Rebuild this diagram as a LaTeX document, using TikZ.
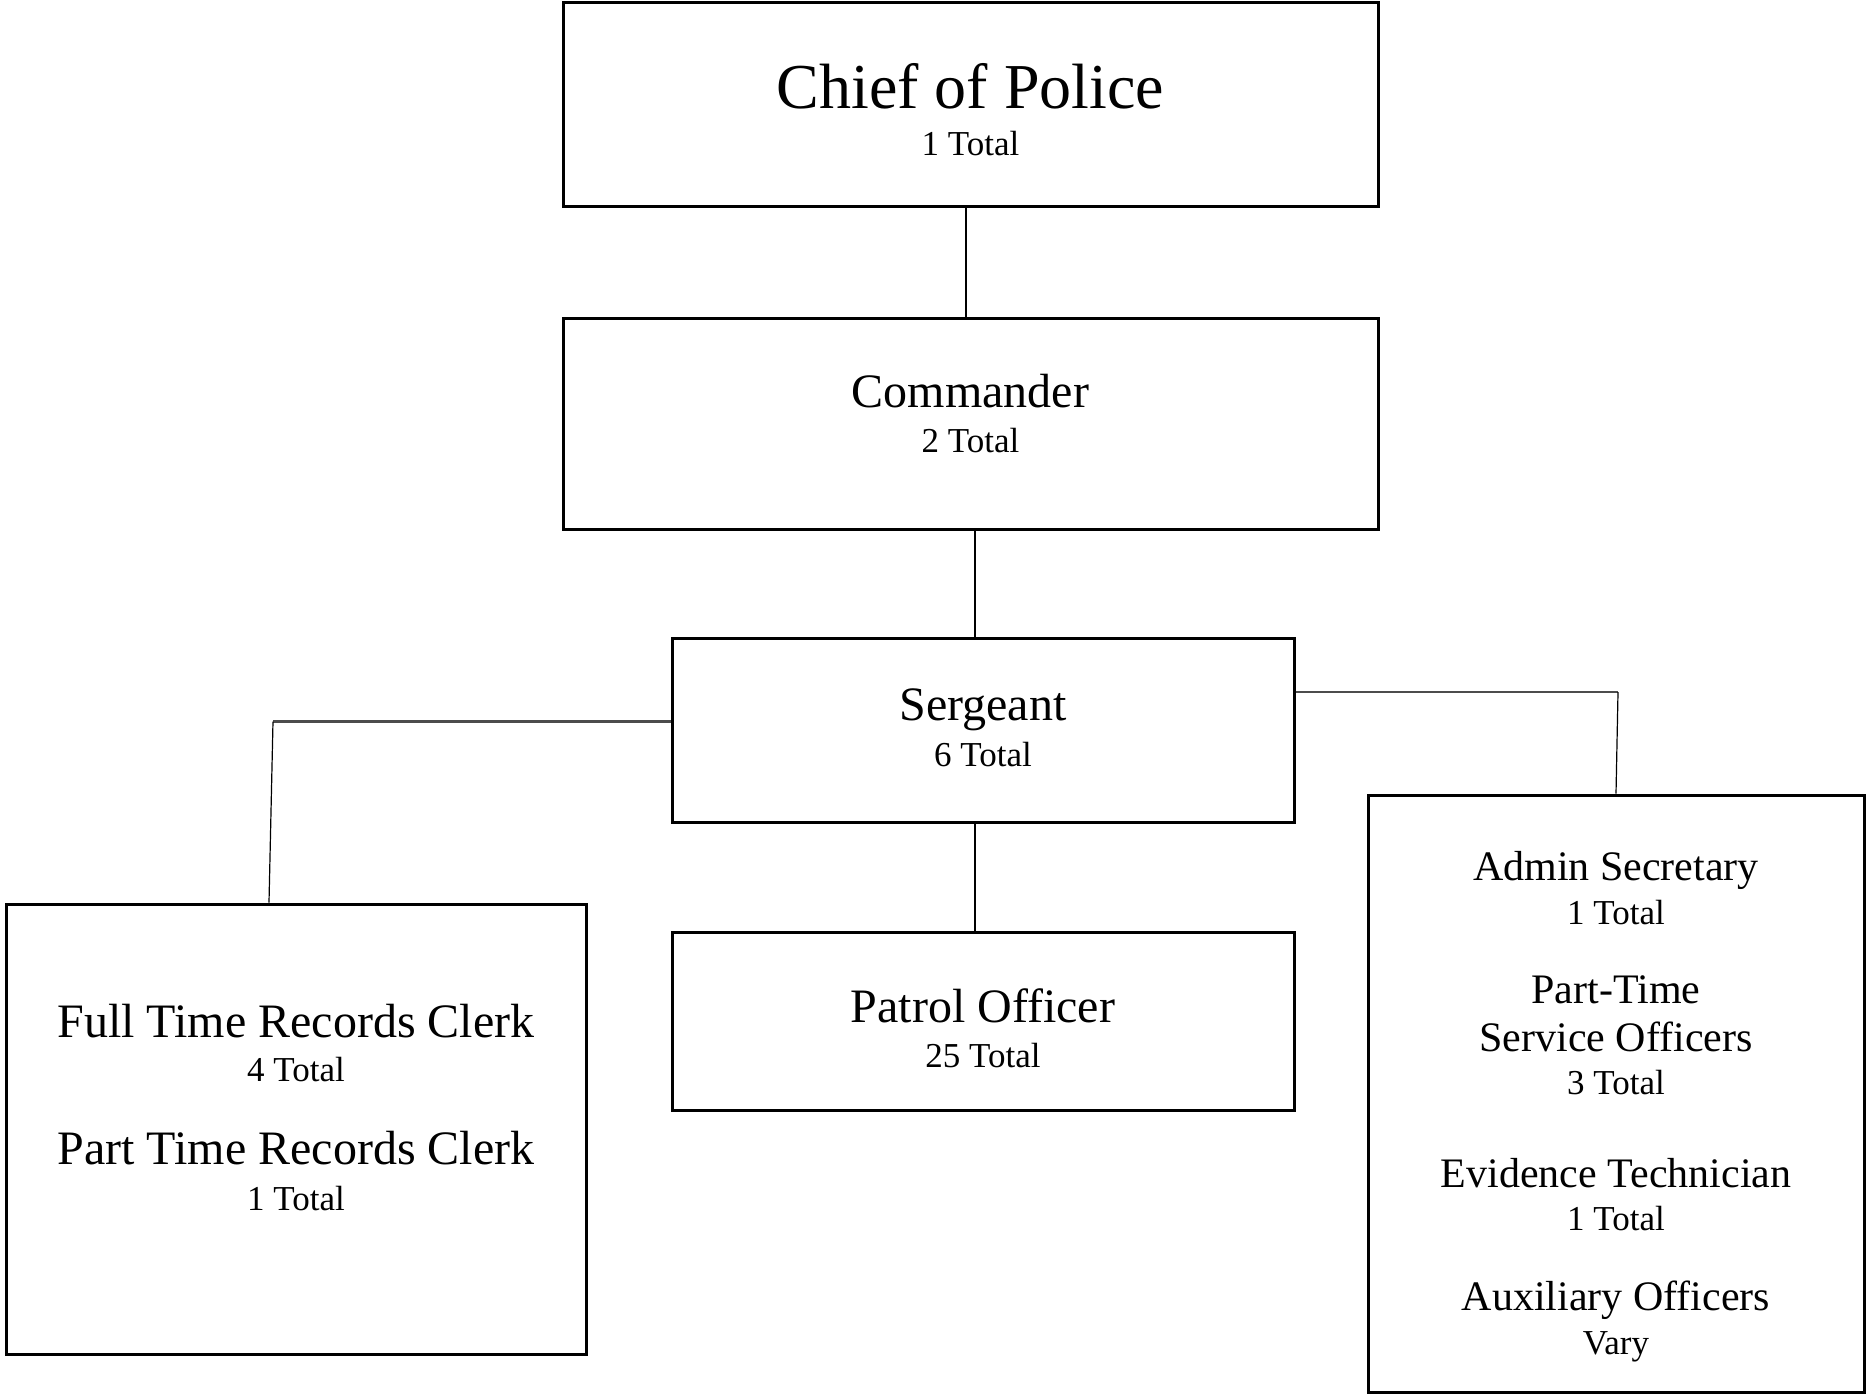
\documentclass[tikz,border=0pt]{standalone}
\usepackage{fontspec}
\setmainfont{Liberation Serif}
\usetikzlibrary{positioning}

\tikzset{
  post/.style={draw=black, line width=1.5pt, inner sep=0pt},
  rank/.style={anchor=base, inner sep=0pt, font=\fontsize{24}{28}\selectfont},
  toprank/.style={anchor=base, inner sep=0pt, font=\fontsize{32}{38}\selectfont},
  staffrank/.style={anchor=base, inner sep=0pt, font=\fontsize{21}{25}\selectfont},
  headcount/.style={anchor=base, inner sep=0pt, font=\fontsize{17.5}{21}\selectfont},
  link/.style={black, line width=0.6pt},
  branch/.style={black!70, line width=1.1pt}
}

\begin{document}
\begin{tikzpicture}[x=0.5pt, y=-0.5pt]
      \useasboundingbox (0,0) rectangle (1867,1394);
      % boxes
      \node[post, minimum width=407.5pt, minimum height=102pt] (chief) at (970.5,104) {};
      \node[post, minimum width=407.5pt, minimum height=105.5pt] (cmdr) at (970.5,423.5) {};
      \node[post, minimum width=311pt, minimum height=92pt] (sgt) at (983,730) {};
      \node[post, minimum width=311pt, minimum height=89pt] (patrol) at (983,1021) {};
      \node[post, minimum width=290pt, minimum height=225pt] (clerks) at (296,1129) {};
      \node[post, minimum width=248pt, minimum height=298.5pt] (staff) at (1616,1093.5) {};
      % texts
      \node[toprank] (chiefname) at (970.5,108.5) {Chief of Police};
      \node[headcount] (chiefcount) at (970.5,155) {1 Total};
      \node[rank] (cmdrname) at (970.5,407.5) {Commander};
      \node[headcount] (cmdrcount) at (970.5,452.5) {2 Total};
      \node[rank] (sgtname) at (983,720.5) {Sergeant};
      \node[headcount] (sgtcount) at (983,766) {6 Total};
      \node[rank] (patrolname) at (983,1022) {Patrol Officer};
      \node[headcount] (patrolcount) at (983,1067) {25 Total};
      \node[rank] (ftclerk) at (296,1037) {Full Time Records Clerk};
      \node[headcount] (ftcount) at (296,1081) {4 Total};
      \node[rank] (ptclerk) at (296,1164.5) {Part Time Records Clerk};
      \node[headcount] (ptcount) at (296,1210) {1 Total};
      \node[staffrank] (admin) at (1616,880) {Admin Secretary};
      \node[headcount] (admincount) at (1616,924) {1 Total};
      \node[staffrank] (cso) at (1616,1003) {Part-Time};
      \node[staffrank] (cso2) at (1616,1051.5) {Service Officers};
      \node[headcount] (csocount) at (1616,1094.5) {3 Total};
      \node[staffrank] (evid) at (1616,1187) {Evidence Technician};
      \node[headcount] (evidcount) at (1616,1230) {1 Total};
      \node[staffrank] (aux) at (1616,1310) {Auxiliary Officers};
      \node[headcount] (auxcount) at (1616,1354) {Vary};
      % connectors
      \coordinate (spine) at (975,0);
      \coordinate (topspine) at (966,0);
      \coordinate (leftturn) at (273,721.5);
      \coordinate (leftfoot) at (269,0);
      \coordinate (rightturn) at (1618,692);
      \draw[link] (chief.south -| topspine) -- (cmdr.north -| topspine);
      \draw[link] (cmdr.south -| spine) -- (sgt.north -| spine);
      \draw[link] (sgt.south -| spine) -- (patrol.north -| spine);
      \draw[branch] (sgt.west |- leftturn) -- (leftturn);
      \draw[link] (leftturn) -- (clerks.north -| leftfoot);
      \draw[branch] (sgt.east |- rightturn) -- (rightturn);
      \draw[link] (rightturn) -- (staff.north);
\end{tikzpicture}
\end{document}
